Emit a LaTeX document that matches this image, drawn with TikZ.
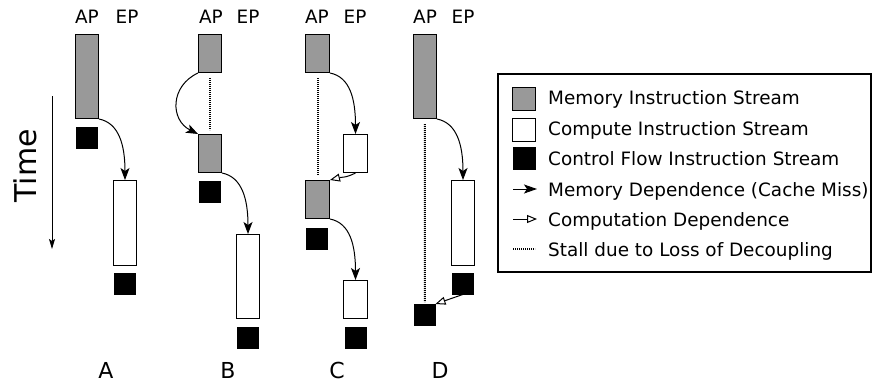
\documentclass[tikz,border=0pt]{standalone}
\usepackage{fontspec}
\setmainfont{DejaVu Sans}
\usetikzlibrary{arrows.meta}
\definecolor{memgray}{RGB}{153,153,153}

\tikzset{
  blk/.style={draw=black, line width=1pt, inner sep=0pt, anchor=north west, minimum width=23pt},
  memblk/.style={blk, fill=memgray},
  cmpblk/.style={blk, fill=white},
  ctlblk/.style={draw=black, fill=black, line width=0.5pt, inner sep=0pt, anchor=north west,
                 minimum width=21pt, minimum height=21pt},
  lbl/.style={font=\fontsize{18.4}{20}\selectfont, inner sep=0pt, anchor=base},
  panel/.style={font=\fontsize{22}{24}\selectfont, inner sep=0pt, anchor=base},
  legtxt/.style={font=\fontsize{18.4}{20}\selectfont, inner sep=0pt, anchor=base west},
  memdep/.style={-{Stealth[length=12pt,width=9pt,inset=3pt]}, line width=1pt},
  cmpdep/.style={-{Triangle[open,length=10pt,width=8pt,fill=white]}, line width=1pt},
  stall/.style={line width=2pt, dash pattern=on 1.2pt off 0.8pt}
}

\begin{document}
\begin{tikzpicture}[x=1pt, y=-1pt]
\useasboundingbox (0,0) rectangle (872,383);

% time axis
\node[font=\fontsize{30}{32}\selectfont, rotate=90, inner sep=0pt] (time) at (25,166) {Time};
\coordinate (t0) at (52,96);
\coordinate (t1) at (52,249);
\draw[line width=1pt, -{Stealth[length=10pt,width=6pt,inset=2pt]}] (t0) -- (t1);

% ---------- A ----------
\node[lbl] (apA) at (87,23) {AP};
\node[lbl] (epA) at (127,23) {EP};
\node[memblk, minimum height=84pt] (memA) at (75,34) {};
\node[ctlblk] (ctlA1) at (76,127) {};
\node[cmpblk, minimum height=85pt] (cmpA) at (113,180) {};
\node[ctlblk] (ctlA2) at (114,273) {};
\node[panel] (labA) at (106,378) {A};
\draw[memdep] (memA.south east) .. controls +(20,4) and +(0,-35) .. (cmpA.north);

% ---------- B ----------
\node[lbl] (apB) at (211,23) {AP};
\node[lbl] (epB) at (248,23) {EP};
\node[memblk, minimum height=38pt] (memB1) at (198,34) {};
\node[memblk, minimum height=38pt] (memB2) at (198,134) {};
\node[ctlblk] (ctlB1) at (199,181) {};
\node[cmpblk, minimum height=84pt] (cmpB) at (236,234) {};
\node[ctlblk] (ctlB2) at (237,327) {};
\node[panel] (labB) at (228,378) {B};
\draw[stall, shorten <=5pt, shorten >=4pt] (memB1.south) -- (memB2.north);
\draw[memdep] (memB1.south west) .. controls +(-28,13) and +(-28,-14) .. (memB2.north west);
\draw[memdep] (memB2.south east) .. controls +(20,4) and +(0,-35) .. (cmpB.north);

% ---------- C ----------
\node[lbl] (apC) at (317,23) {AP};
\node[lbl] (epC) at (355,23) {EP};
\node[memblk, minimum width=24pt, minimum height=38pt] (memC1) at (305,34) {};
\node[cmpblk, minimum width=24pt, minimum height=38pt] (cmpC1) at (343,134) {};
\node[memblk, minimum width=24pt, minimum height=38pt] (memC2) at (305,180) {};
\node[ctlblk] (ctlC1) at (306,228) {};
\node[cmpblk, minimum width=24pt, minimum height=38pt] (cmpC2) at (343,280) {};
\node[ctlblk] (ctlC2) at (345,327) {};
\node[panel] (labC) at (337,378) {C};
\draw[stall, shorten <=5pt, shorten >=5pt] (memC1.south) -- (memC2.north);
\draw[memdep] (memC1.south east) .. controls +(20,4) and +(0,-35) .. (cmpC1.north);
\draw[cmpdep] (cmpC1.south) .. controls +(-10,5) and +(12,-3) .. (memC2.north east);
\draw[memdep] (memC2.south east) .. controls +(20,4) and +(0,-35) .. (cmpC2.north);

% ---------- D ----------
\node[lbl] (apD) at (425,23) {AP};
\node[lbl] (epD) at (463,23) {EP};
\node[memblk, minimum height=84pt] (memD) at (413,34) {};
\node[cmpblk, minimum height=85pt] (cmpD) at (451,180) {};
\node[ctlblk] (ctlD1) at (452,273) {};
\node[ctlblk] (ctlD2) at (414,304) {};
\node[panel] (labD) at (440,378) {D};
\draw[stall, shorten <=5pt, shorten >=2pt] (memD.south) -- (ctlD2.north);
\draw[memdep] (memD.south east) .. controls +(20,4) and +(0,-35) .. (cmpD.north);
\draw[cmpdep] (ctlD1.south) -- (ctlD2.north east);

% ---------- legend ----------
\node[draw=black, line width=2pt, inner sep=0pt, anchor=north west,
      minimum width=373pt, minimum height=198pt] (legend) at (497,73) {};
\node[memblk, minimum height=23pt] (lgMem) at (512,87) {};
\node[cmpblk, minimum height=23pt] (lgCmp) at (512,118) {};
\node[ctlblk, minimum width=22pt, minimum height=22pt] (lgCtl) at (513,147) {};
\coordinate (lgA0) at (513,189); \coordinate (lgA1) at (537,189);
\coordinate (lgB0) at (513,219); \coordinate (lgB1) at (537,219);
\coordinate (lgC0) at (513,249); \coordinate (lgC1) at (535,249);
\draw[line width=1pt, -{Stealth[length=13pt,width=9pt,inset=3pt]}] (lgA0) -- (lgA1);
\draw[cmpdep] (lgB0) -- (lgB1);
\draw[stall] (lgC0) -- (lgC1);
\node[legtxt] (txMem) at (548,104) {Memory Instruction Stream};
\node[legtxt] (txCmp) at (548,135) {Compute Instruction Stream};
\node[legtxt] (txCtl) at (548,165) {Control Flow Instruction Stream};
\node[legtxt] (txMD)  at (548,196) {Memory Dependence (Cache Miss)};
\node[legtxt] (txCD)  at (548,226) {Computation Dependence};
\node[legtxt] (txSt)  at (548,256) {Stall due to Loss of Decoupling};
\end{tikzpicture}
\end{document}
